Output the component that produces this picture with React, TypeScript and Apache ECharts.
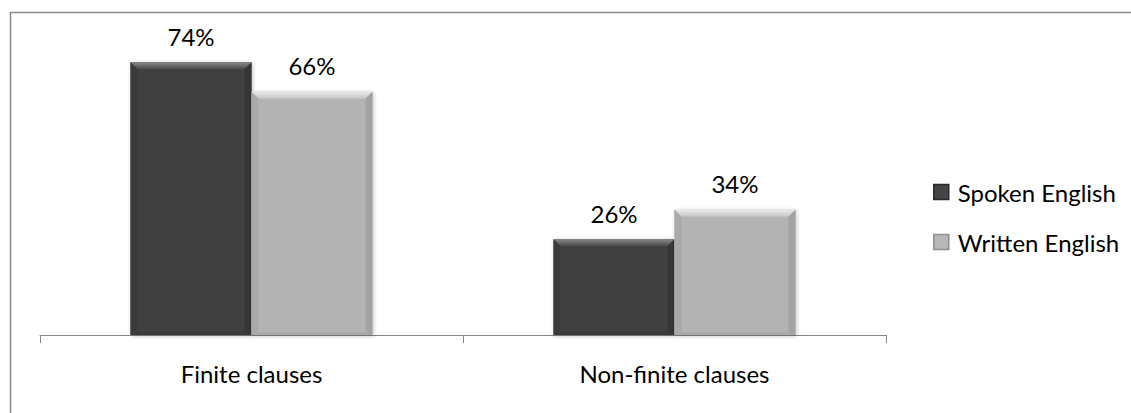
import React, { useEffect, useRef } from "react";
import * as echarts from "echarts";

// Share of clause types in spoken vs written English (percent)
const categories = ["Finite clauses", "Non-finite clauses"];
const seriesNames = ["Spoken English", "Written English"];
const spokenValues = [74, 26];
const writtenValues = [66, 34];

const FONT = "Lato, 'Open Sans', sans-serif";

type Bevel = {
  face: string;
  topA: string;
  topB: string;
  left: string;
  right: string;
  bottom: string;
};

const spokenBevel: Bevel = {
  face: "#414141",
  topA: "#8a8a8a",
  topB: "#4a4a4a",
  left: "#3a3a3a",
  right: "#363636",
  bottom: "#3a3a3a",
};

const writtenBevel: Bevel = {
  face: "#b3b3b3",
  topA: "#ececec",
  topB: "#c4c4c4",
  left: "#a9a9a9",
  right: "#a3a3a3",
  bottom: "#a9a9a9",
};

// Bevelled bar drawn on the category/value scales; side -1 = left of band centre, +1 = right
function bevelRenderer(side: number, bevel: Bevel) {
  return (params: any, api: any) => {
    const cat = api.value(0);
    const v = api.value(1);
    const top = api.coord([cat, v]);
    const base = api.coord([cat, 0]);
    const band = api.size([1, 0])[0];
    const w = band * 0.286;
    const x0 = side < 0 ? top[0] - w : top[0];
    const x1 = x0 + w;
    const y0 = top[1];
    const y1 = base[1];
    const b = 7;
    const bb = 3;
    return {
      type: "group",
      children: [
        {
          type: "rect",
          shape: { x: x0, y: y0, width: w, height: y1 - y0 },
          style: {
            fill: bevel.face,
            shadowBlur: 4,
            shadowColor: "rgba(0,0,0,0.25)",
            shadowOffsetX: 1,
            shadowOffsetY: 1,
          },
        },
        {
          type: "polygon",
          shape: { points: [[x0, y0], [x1, y0], [x1 - b, y0 + b], [x0 + b, y0 + b]] },
          style: {
            fill: new echarts.graphic.LinearGradient(0, 0, 0, 1, [
              { offset: 0, color: bevel.topA },
              { offset: 1, color: bevel.topB },
            ]),
          },
        },
        {
          type: "polygon",
          shape: { points: [[x0, y0], [x0 + b, y0 + b], [x0 + b, y1 - bb], [x0, y1]] },
          style: { fill: bevel.left },
        },
        {
          type: "polygon",
          shape: { points: [[x1, y0], [x1 - b, y0 + b], [x1 - b, y1 - bb], [x1, y1]] },
          style: { fill: bevel.right },
        },
        {
          type: "polygon",
          shape: { points: [[x0, y1], [x0 + b, y1 - bb], [x1 - b, y1 - bb], [x1, y1]] },
          style: { fill: bevel.bottom },
        },
        {
          type: "text",
          style: {
            x: (x0 + x1) / 2,
            y: y0 - 26,
            text: v + "%",
            fill: "#000000",
            font: `24px ${FONT}`,
            align: "center",
            verticalAlign: "middle",
          },
        },
      ],
    };
  };
}

export default function App() {
  const ref = useRef<HTMLDivElement>(null);

  useEffect(() => {
    document.body.style.margin = "0";
    if (!ref.current) return;
    const chart = echarts.init(ref.current, null, { renderer: "svg" });

    const toData = (vals: number[]) => vals.map((v, i) => [i, v]);

    chart.setOption({
      animation: false,
      backgroundColor: "#ffffff",
      textStyle: { fontFamily: FONT },
      graphic: [
        {
          // chart frame: only the left and top edges fall inside the view
          type: "polyline",
          shape: { points: [[10.5, 420], [10.5, 12.5], [1140, 12.5]] },
          style: { fill: "none", stroke: "#8a8a8a", lineWidth: 1.5 },
          silent: true,
          z: -1,
        },
      ],
      grid: { left: 40, right: 245, top: 40, bottom: 78 },
      legend: {
        orient: "vertical",
        left: 928,
        top: 175,
        itemWidth: 15,
        itemHeight: 15,
        itemGap: 26,
        icon: "rect",
        textStyle: { fontSize: 24, color: "#000000", fontFamily: FONT, padding: [0, 0, 0, 4] },
        data: [
          { name: seriesNames[0], itemStyle: { color: "#454545", borderColor: "#2a2a2a", borderWidth: 1.5 } },
          { name: seriesNames[1], itemStyle: { color: "#b8b8b8", borderColor: "#8f8f8f", borderWidth: 1.5 } },
        ],
      },
      xAxis: {
        type: "category",
        data: categories,
        axisLine: { lineStyle: { color: "#868686", width: 1 } },
        axisTick: { show: true, length: 8, lineStyle: { color: "#868686" } },
        axisLabel: { fontSize: 24, color: "#000000", fontFamily: FONT, margin: 26 },
      },
      yAxis: {
        type: "value",
        min: 0,
        max: 80,
        show: false,
        splitLine: { show: false },
      },
      series: [
        {
          name: seriesNames[0],
          type: "custom",
          data: toData(spokenValues),
          encode: { x: 0, y: 1 },
          itemStyle: { color: spokenBevel.face },
          renderItem: bevelRenderer(-1, spokenBevel),
        },
        {
          name: seriesNames[1],
          type: "custom",
          data: toData(writtenValues),
          encode: { x: 0, y: 1 },
          itemStyle: { color: writtenBevel.face },
          renderItem: bevelRenderer(1, writtenBevel),
        },
      ],
    });

    return () => chart.dispose();
  }, []);

  return <div ref={ref} style={{ width: 1131, height: 413 }} />;
}
